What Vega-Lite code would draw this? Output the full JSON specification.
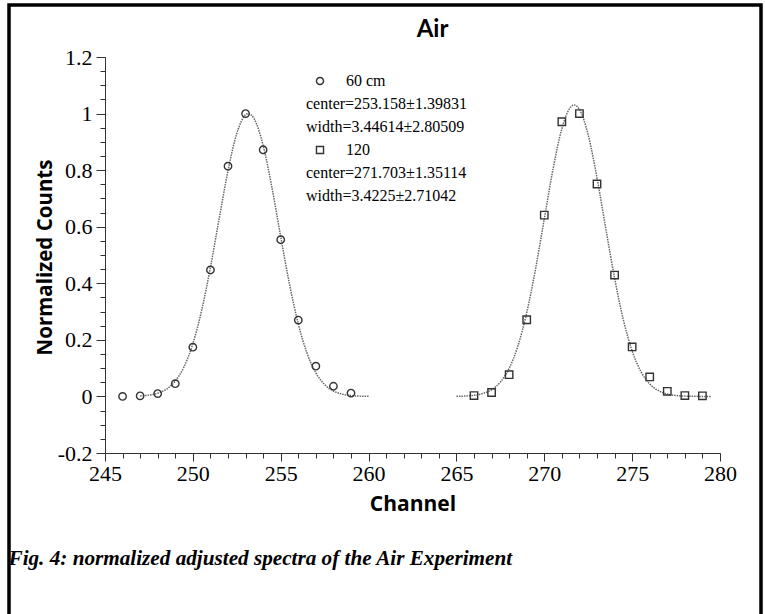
{
  "$schema": "https://vega.github.io/schema/vega-lite/v6.json",
  "width": 752,
  "height": 620,
  "autosize": {"type": "none"},
  "padding": {"left": 9, "top": 5, "right": 4, "bottom": 0},
  "background": "white",
  "config": {
    "view": {"stroke": "black", "strokeWidth": 3.5},
    "axis": {"grid": false, "domainColor": "#333", "tickColor": "#333", "labelColor": "black", "labelFont": "Liberation Serif", "labelFontSize": 22, "titleColor": "black"}
  },
  "datasets": {
    "pts": [
      {"series": "60 cm", "channel": 246, "counts": 0.0},
      {"series": "60 cm", "channel": 247, "counts": 0.002},
      {"series": "60 cm", "channel": 248, "counts": 0.01},
      {"series": "60 cm", "channel": 249, "counts": 0.045},
      {"series": "60 cm", "channel": 250, "counts": 0.174},
      {"series": "60 cm", "channel": 251, "counts": 0.447},
      {"series": "60 cm", "channel": 252, "counts": 0.814},
      {"series": "60 cm", "channel": 253, "counts": 1.0},
      {"series": "60 cm", "channel": 254, "counts": 0.872},
      {"series": "60 cm", "channel": 255, "counts": 0.554},
      {"series": "60 cm", "channel": 256, "counts": 0.27},
      {"series": "60 cm", "channel": 257, "counts": 0.107},
      {"series": "60 cm", "channel": 258, "counts": 0.036},
      {"series": "60 cm", "channel": 259, "counts": 0.012},
      {"series": "120", "channel": 266, "counts": 0.003},
      {"series": "120", "channel": 267, "counts": 0.014},
      {"series": "120", "channel": 268, "counts": 0.077},
      {"series": "120", "channel": 269, "counts": 0.271},
      {"series": "120", "channel": 270, "counts": 0.641},
      {"series": "120", "channel": 271, "counts": 0.971},
      {"series": "120", "channel": 272, "counts": 1.0},
      {"series": "120", "channel": 273, "counts": 0.751},
      {"series": "120", "channel": 274, "counts": 0.429},
      {"series": "120", "channel": 275, "counts": 0.175},
      {"series": "120", "channel": 276, "counts": 0.069},
      {"series": "120", "channel": 277, "counts": 0.018},
      {"series": "120", "channel": 278, "counts": 0.003},
      {"series": "120", "channel": 279, "counts": 0.002}
    ],
    "fit": [
      {"series": "60 cm", "channel": 247, "counts": 0.0017},
      {"series": "60 cm", "channel": 247.5, "counts": 0.0046},
      {"series": "60 cm", "channel": 248, "counts": 0.0113},
      {"series": "60 cm", "channel": 248.5, "counts": 0.0259},
      {"series": "60 cm", "channel": 249, "counts": 0.0544},
      {"series": "60 cm", "channel": 249.5, "counts": 0.105},
      {"series": "60 cm", "channel": 250, "counts": 0.1864},
      {"series": "60 cm", "channel": 250.5, "counts": 0.3043},
      {"series": "60 cm", "channel": 251, "counts": 0.4564},
      {"series": "60 cm", "channel": 251.5, "counts": 0.6294},
      {"series": "60 cm", "channel": 252, "counts": 0.7979},
      {"series": "60 cm", "channel": 252.5, "counts": 0.9297},
      {"series": "60 cm", "channel": 253, "counts": 0.9958},
      {"series": "60 cm", "channel": 253.158, "counts": 1.0},
      {"series": "60 cm", "channel": 253.5, "counts": 0.9805},
      {"series": "60 cm", "channel": 254, "counts": 0.8875},
      {"series": "60 cm", "channel": 254.5, "counts": 0.7384},
      {"series": "60 cm", "channel": 255, "counts": 0.5647},
      {"series": "60 cm", "channel": 255.5, "counts": 0.3971},
      {"series": "60 cm", "channel": 256, "counts": 0.2566},
      {"series": "60 cm", "channel": 256.5, "counts": 0.1524},
      {"series": "60 cm", "channel": 257, "counts": 0.0833},
      {"series": "60 cm", "channel": 257.5, "counts": 0.0418},
      {"series": "60 cm", "channel": 258, "counts": 0.0193},
      {"series": "60 cm", "channel": 258.5, "counts": 0.0082},
      {"series": "60 cm", "channel": 259, "counts": 0.0032},
      {"series": "60 cm", "channel": 259.5, "counts": 0.0011},
      {"series": "60 cm", "channel": 260, "counts": 0.0004},
      {"series": "120", "channel": 265, "counts": 0.0005},
      {"series": "120", "channel": 265.5, "counts": 0.0014},
      {"series": "120", "channel": 266, "counts": 0.004},
      {"series": "120", "channel": 266.5, "counts": 0.0101},
      {"series": "120", "channel": 267, "counts": 0.0236},
      {"series": "120", "channel": 267.5, "counts": 0.0505},
      {"series": "120", "channel": 268, "counts": 0.0991},
      {"series": "120", "channel": 268.5, "counts": 0.1787},
      {"series": "120", "channel": 269, "counts": 0.2959},
      {"series": "120", "channel": 269.5, "counts": 0.4498},
      {"series": "120", "channel": 270, "counts": 0.6277},
      {"series": "120", "channel": 270.5, "counts": 0.8045},
      {"series": "120", "channel": 271, "counts": 0.9467},
      {"series": "120", "channel": 271.5, "counts": 1.0228},
      {"series": "120", "channel": 271.703, "counts": 1.03},
      {"series": "120", "channel": 272, "counts": 1.0147},
      {"series": "120", "channel": 272.5, "counts": 0.9241},
      {"series": "120", "channel": 273, "counts": 0.7729},
      {"series": "120", "channel": 273.5, "counts": 0.5935},
      {"series": "120", "channel": 274, "counts": 0.4184},
      {"series": "120", "channel": 274.5, "counts": 0.2709},
      {"series": "120", "channel": 275, "counts": 0.161},
      {"series": "120", "channel": 275.5, "counts": 0.0878},
      {"series": "120", "channel": 276, "counts": 0.044},
      {"series": "120", "channel": 276.5, "counts": 0.0203},
      {"series": "120", "channel": 277, "counts": 0.0086},
      {"series": "120", "channel": 277.5, "counts": 0.0033},
      {"series": "120", "channel": 278, "counts": 0.0012},
      {"series": "120", "channel": 278.5, "counts": 0.0004},
      {"series": "120", "channel": 279, "counts": 0.0001},
      {"series": "120", "channel": 279.5, "counts": 0.0}
    ]
  },
  "layer": [
    {
      "data": {"name": "fit"},
      "mark": {"type": "line", "color": "#666", "strokeWidth": 1.5, "strokeDash": [1.5, 1], "interpolate": "monotone"},
      "encoding": {
        "x": {
          "field": "channel", "type": "quantitative",
          "scale": {"domain": [245, 280], "range": [96, 711], "nice": false, "zero": false},
          "axis": {"orient": "bottom", "offset": -172, "values": [245, 250, 255, 260, 265, 270, 275, 280], "format": "d", "tickSize": 8, "labelPadding": 2, "labelFlush": false, "labelOverlap": false, "title": "Channel", "titleFont": "Open Sans", "titleFontSize": 21, "titleFontWeight": "bold", "titleX": 403.5, "titleY": 57, "titleBaseline": "alphabetic", "titleAlign": "center"}
        },
        "y": {
          "field": "counts", "type": "quantitative",
          "scale": {"domain": [-0.2, 1.2], "range": [448, 52], "nice": false, "zero": false},
          "axis": {"orient": "left", "offset": -96, "values": [-0.2, 0, 0.2, 0.4, 0.6, 0.8, 1, 1.2], "labelExpr": "'' + round(datum.value*10)/10", "tickSize": 9, "labelPadding": 4, "labelOverlap": false, "labelFlush": false, "title": "Normalized Counts", "titleFont": "Open Sans", "titleFontSize": 20.5, "titleFontWeight": "bold", "titleAngle": -90, "titleX": -54, "titleY": 252, "titleBaseline": "alphabetic", "titleAlign": "center"}
        },
        "detail": {"field": "series"}
      }
    },
    {
      "data": {"name": "pts"},
      "mark": {"type": "point", "filled": false, "color": "#333", "strokeWidth": 1.4, "size": 55, "opacity": 1},
      "encoding": {
        "x": {
          "field": "channel", "type": "quantitative",
          "axis": {"orient": "bottom", "offset": -172, "values": [245,246,247,248,249,250,251,252,253,254,255,256,257,258,259,260,261,262,263,264,265,266,267,268,269,270,271,272,273,274,275,276,277,278,279,280], "tickSize": 5, "labels": false, "domain": false, "title": "Fig. 4: normalized adjusted spectra of the Air Experiment", "titleFont": "Liberation Serif", "titleFontSize": 21.2, "titleFontStyle": "italic", "titleFontWeight": "bold", "titleX": -1, "titleY": 111, "titleAlign": "left", "titleAnchor": "start", "titleBaseline": "alphabetic", "titleAngle": 0}
        },
        "y": {
          "field": "counts", "type": "quantitative",
          "axis": {"orient": "left", "offset": -96, "values": [-0.2,-0.15,-0.1,-0.05,0,0.05,0.1,0.15,0.2,0.25,0.3,0.35,0.4,0.45,0.5,0.55,0.6,0.65,0.7,0.75,0.8,0.85,0.9,0.95,1,1.05,1.1,1.15,1.2], "tickSize": 5, "labels": false, "domain": false, "title": "Air", "titleFont": "Lato", "titleFontSize": 24, "titleFontWeight": "bold", "titleAngle": 0, "titleX": 327, "titleY": 31, "titleAlign": "center", "titleBaseline": "alphabetic"}
        },
        "shape": {
          "field": "series", "type": "nominal",
          "scale": {"domain": ["60 cm", "c60", "w60", "120", "c120", "w120"], "range": ["circle", "M0,0", "M0,0", "square", "M0,0", "M0,0"]},
          "legend": {
            "title": null, "orient": "none", "legendX": 303, "legendY": 68, "padding": 0,
            "symbolSize": 50, "symbolStrokeColor": "#333", "symbolFillColor": "white", "symbolStrokeWidth": 1.4,
            "labelFont": "Liberation Serif", "labelFontSize": 16, "labelColor": "black", "labelLimit": 500, "labelOffset": -22, "labelBaseline": "middle", "rowPadding": 7,
            "labelExpr": "datum.label === '60 cm' ? '\u200b\u00a0\u00a0\u00a0\u00a0\u00a0\u00a0\u00a0\u00a0\u00a0\u00a060 cm' : datum.label === 'c60' ? 'center=253.158\u00b11.39831' : datum.label === 'w60' ? 'width=3.44614\u00b12.80509' : datum.label === '120' ? '\u200b\u00a0\u00a0\u00a0\u00a0\u00a0\u00a0\u00a0\u00a0\u00a0\u00a0120' : datum.label === 'c120' ? 'center=271.703\u00b11.35114' : 'width=3.4225\u00b12.71042'"
          }
        }
      }
    }
  ],
  "resolve": {"axis": {"x": "independent", "y": "independent"}}
}
